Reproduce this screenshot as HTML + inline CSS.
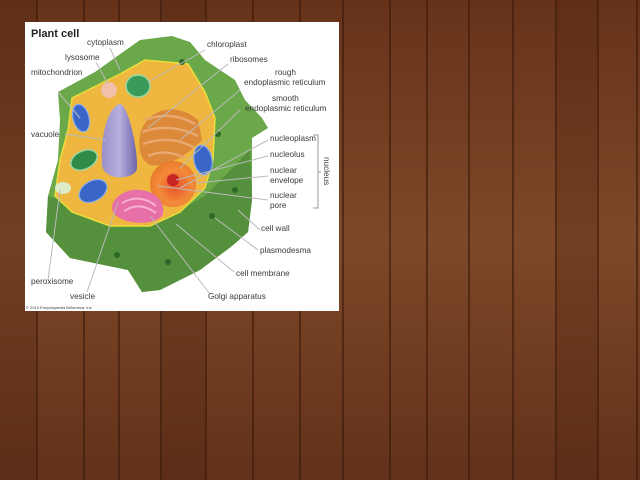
<!DOCTYPE html>
<html><head><meta charset="utf-8"><style>
html,body{margin:0;padding:0;width:640px;height:480px;overflow:hidden;background:#6e3a1c}
svg{display:block}
text{font-family:"Liberation Sans",sans-serif;fill:#3a3a3a;font-size:8.2px}
</style></head><body>
<svg width="640" height="480" viewBox="0 0 640 480" xmlns="http://www.w3.org/2000/svg">
<defs>
<linearGradient id="plank" x1="0" y1="0" x2="0" y2="1">
<stop offset="0" stop-color="#66321a"/><stop offset="0.5" stop-color="#7e4828"/><stop offset="1" stop-color="#62311a"/>
</linearGradient>
<linearGradient id="vac" x1="0" y1="0" x2="1" y2="0">
<stop offset="0" stop-color="#9a90c8"/><stop offset="0.5" stop-color="#b8b0e0"/><stop offset="1" stop-color="#6e64a8"/>
</linearGradient>
<radialGradient id="nuc" cx="0.55" cy="0.55" r="0.6">
<stop offset="0" stop-color="#e8502a"/><stop offset="0.6" stop-color="#f38a3a"/><stop offset="1" stop-color="#e8782a"/>
</radialGradient>
</defs>
<rect width="640" height="480" fill="url(#plank)"/>
<g fill="#3a1a0a" opacity="0.6">
<rect x="36" y="0" width="2" height="480"/><rect x="83" y="0" width="2" height="480"/><rect x="118" y="0" width="2" height="480"/>
<rect x="160" y="0" width="2" height="480"/><rect x="205" y="0" width="2" height="480"/><rect x="252" y="0" width="2" height="480"/>
<rect x="299" y="0" width="2" height="480"/><rect x="342" y="0" width="2" height="480"/><rect x="389" y="0" width="2" height="480"/>
<rect x="426" y="0" width="2" height="480"/><rect x="468" y="0" width="2" height="480"/><rect x="512" y="0" width="2" height="480"/>
<rect x="555" y="0" width="2" height="480"/><rect x="597" y="0" width="2" height="480"/><rect x="636" y="0" width="2" height="480"/>
</g>
<g fill="#4a220e" opacity="0.25">
<rect x="0" y="0" width="36" height="480"/><rect x="162" y="0" width="43" height="480"/><rect x="556" y="0" width="41" height="480"/>
</g>
<rect x="25" y="22" width="314" height="289" fill="#ffffff"/>
<!-- cell wall -->
<path d="M58,92 L95,72 L140,40 L172,36 L190,42 L205,60 L235,80 L245,100 L262,118 L268,128 L252,138 L252,200 L248,232 L232,246 L200,270 L160,290 L142,292 L128,270 L70,258 L46,232 L48,196 L58,160 L60,120 Z" fill="#6aa84a"/>
<path d="M46,232 L48,196 L60,200 L100,222 L150,226 L205,196 L250,150 L252,200 L248,232 L232,246 L200,270 L160,290 L142,292 L128,270 L70,258 Z" fill="#55903c"/>
<!-- cytoplasm -->
<path d="M72,98 L120,74 L145,60 L188,64 L205,92 L215,118 L213,160 L205,188 L180,212 L150,226 L110,226 L72,212 L55,196 L60,160 L68,130 Z" fill="#efb640" stroke="#e9df3a" stroke-width="1.5"/>
<!-- organelles -->
<path d="M102,165 C100,125 112,105 120,104 C128,104 138,150 137,168 C136,180 104,182 102,165 Z" fill="url(#vac)"/>
<circle cx="109" cy="90" r="8" fill="#f0c0a8"/>
<ellipse cx="138" cy="86" rx="12" ry="11" fill="#3a9a5a" stroke="#9cd8a4" stroke-width="1.5"/>
<ellipse cx="81" cy="118" rx="8" ry="14" fill="#3a66c8" stroke="#8ab0ea" stroke-width="1.2" transform="rotate(-15 81 118)"/>
<ellipse cx="84" cy="160" rx="14" ry="9" fill="#2f8a4a" stroke="#9cd8a4" stroke-width="1.5" transform="rotate(-25 84 160)"/>
<ellipse cx="93" cy="191" rx="15" ry="10" fill="#3a66c8" stroke="#8ab0ea" stroke-width="1.2" transform="rotate(-30 93 191)"/>
<ellipse cx="203" cy="160" rx="9" ry="15" fill="#3a66c8" stroke="#8ab0ea" stroke-width="1.2" transform="rotate(-10 203 160)"/>
<ellipse cx="63" cy="188" rx="8" ry="6" fill="#dcebc8"/>
<path d="M140,135 C145,110 175,100 198,120 L202,140 C190,152 170,168 150,165 C140,160 138,148 140,135 Z" fill="#d9843a" opacity="0.9"/>
<g stroke="#e8a870" stroke-width="2.5" fill="none"><path d="M145,120 Q170,110 195,124"/><path d="M142,132 Q170,122 198,136"/><path d="M143,144 Q170,134 195,148"/><path d="M148,156 Q165,148 185,158"/></g>
<circle cx="173" cy="184" r="23" fill="url(#nuc)"/>
<circle cx="173" cy="180" r="6" fill="#c82424"/>
<path d="M113,212 C108,200 125,188 140,190 C157,191 167,205 162,216 C152,227 120,224 113,212 Z" fill="#e870a8"/>
<g stroke="#f6b0d0" stroke-width="2" fill="none"><path d="M122,203 Q140,193 156,206"/><path d="M124,211 Q140,201 156,213"/></g>
<g fill="#2d6a2a"><circle cx="212" cy="216" r="3"/><circle cx="218" cy="134" r="3"/><circle cx="117" cy="255" r="3"/><circle cx="168" cy="262" r="3"/><circle cx="182" cy="62" r="3"/><circle cx="235" cy="190" r="3"/></g>
<!-- leader lines -->
<g stroke="#bbbbbb" stroke-width="1" fill="none">
<line x1="110" y1="48" x2="120" y2="70"/><line x1="96" y1="62" x2="108" y2="84"/><line x1="58" y1="92" x2="80" y2="118"/>
<line x1="64" y1="134" x2="106" y2="140"/><line x1="205" y1="50" x2="148" y2="82"/><line x1="228" y1="64" x2="148" y2="128"/>
<line x1="240" y1="90" x2="180" y2="140"/><line x1="240" y1="110" x2="180" y2="168"/>
<line x1="268" y1="140" x2="180" y2="188"/><line x1="268" y1="156" x2="176" y2="180"/><line x1="268" y1="176" x2="196" y2="183"/>
<line x1="268" y1="200" x2="158" y2="186"/><line x1="260" y1="230" x2="238" y2="210"/><line x1="258" y1="250" x2="215" y2="218"/>
<line x1="234" y1="272" x2="176" y2="224"/><line x1="210" y1="294" x2="150" y2="216"/><line x1="48" y1="280" x2="60" y2="190"/><line x1="87" y1="292" x2="118" y2="202"/>
</g>
<path d="M313,135 L318,135 L318,208 L313,208 M318,172 L321,172" stroke="#999" stroke-width="1" fill="none"/>
<!-- labels -->
<text x="31" y="37" style="font-size:11px;font-weight:bold;fill:#222">Plant cell</text>
<text x="87" y="45">cytoplasm</text>
<text x="65" y="60">lysosome</text>
<text x="31" y="75">mitochondrion</text>
<text x="31" y="137">vacuole</text>
<text x="207" y="47">chloroplast</text>
<text x="230" y="62">ribosomes</text>
<text x="275" y="75">rough</text>
<text x="244" y="85">endoplasmic reticulum</text>
<text x="272" y="101">smooth</text>
<text x="245" y="111">endoplasmic reticulum</text>
<text x="270" y="141">nucleoplasm</text>
<text x="270" y="157">nucleolus</text>
<text x="270" y="173">nuclear</text>
<text x="270" y="183">envelope</text>
<text x="270" y="198">nuclear</text>
<text x="270" y="208">pore</text>
<text x="261" y="231">cell wall</text>
<text x="260" y="253">plasmodesma</text>
<text x="236" y="276">cell membrane</text>
<text x="208" y="299">Golgi apparatus</text>
<text x="31" y="284">peroxisome</text>
<text x="70" y="299">vesicle</text>
<text x="26" y="309" style="font-size:4px">© 2010 Encyclopædia Britannica, Inc.</text>
<text transform="translate(324,157) rotate(90)">nucleus</text>
</svg>
</body></html>
